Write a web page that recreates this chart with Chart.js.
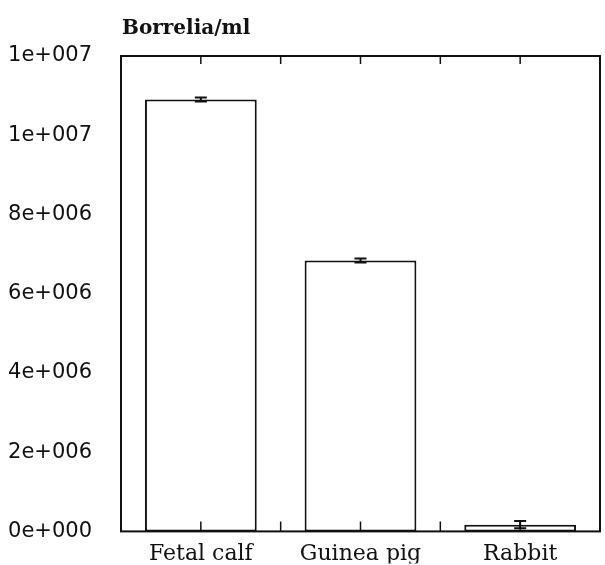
<!DOCTYPE html>
<html>
<head>
<meta charset="utf-8">
<script src="https://cdn.jsdelivr.net/npm/chart.js@4.4.0/dist/chart.umd.min.js"></script>
<style>
  html, body { margin: 0; padding: 0; background: #fff; }
  #wrap { width: 605px; height: 565px; }
</style>
</head>
<body>
<div id="wrap"><canvas id="bar-chart" width="605" height="565"></canvas></div>
<script>
// Borrelia growth in different sera

var categories = ["Fetal calf", "Guinea pig", "Rabbit"];
var counts = [10900000, 6840000, 170000];
var errors = [50000, 50000, 90000];
var yTickLabels = ["0e+000", "2e+006", "4e+006", "6e+006", "8e+006", "1e+007", "1e+007"];
var yTitle = "Borrelia/ml";

var ink = "#111";

// box around the plot, inward ticks on top and bottom, error bars, title
var decor = {
  id: 'decor',
  afterDatasetsDraw: function(chart) {
    var ctx = chart.ctx, a = chart.chartArea;
    var x = chart.scales.x, y = chart.scales.y;
    ctx.save();
    ctx.strokeStyle = ink;
    ctx.lineWidth = 2;
    ctx.strokeRect(a.left, a.top, a.right - a.left, a.bottom - a.top);

    // ticks at category centres and between categories
    var pos = [];
    for (var i = 0; i < categories.length; i++) {
      var c = x.getPixelForValue(i);
      pos.push(c);
      if (i < categories.length - 1) pos.push((c + x.getPixelForValue(i + 1)) / 2);
    }
    ctx.lineWidth = 1.5;
    ctx.beginPath();
    pos.forEach(function(p) {
      ctx.moveTo(p, a.top); ctx.lineTo(p, a.top + 8);
      ctx.moveTo(p, a.bottom); ctx.lineTo(p, a.bottom - 10);
    });
    ctx.stroke();

    // error bars
    ctx.lineWidth = 2;
    counts.forEach(function(v, i) {
      var cx = x.getPixelForValue(i);
      var hi = y.getPixelForValue(v + errors[i]);
      var lo = y.getPixelForValue(Math.max(0, v - errors[i]));
      ctx.beginPath();
      ctx.moveTo(cx, hi); ctx.lineTo(cx, lo);
      ctx.moveTo(cx - 6, hi); ctx.lineTo(cx + 6, hi);
      ctx.moveTo(cx - 6, lo); ctx.lineTo(cx + 6, lo);
      ctx.stroke();
    });

    // unit label above the axis
    ctx.fillStyle = ink;
    ctx.font = "bold 20px 'DejaVu Serif'";
    ctx.textAlign = 'left';
    ctx.textBaseline = 'middle';
    ctx.fillText(yTitle, a.left + 1, 29);
    ctx.restore();
  }
};

new Chart(document.getElementById("bar-chart"), {
  type: 'bar',
  data: {
    labels: categories,
    datasets: [{
      label: yTitle,
      data: counts,
      backgroundColor: "#fff",
      borderColor: ink,
      borderWidth: 2,
      borderSkipped: false,
      categoryPercentage: 1,
      barPercentage: 0.7
    }]
  },
  options: {
    responsive: false,
    animation: false,
    devicePixelRatio: 1,
    layout: { padding: { top: 56, right: 5, left: 0, bottom: 0 } },
    plugins: {
      legend: { display: false },
      title: { display: false },
      tooltip: { enabled: false }
    },
    scales: {
      x: {
        grid: { display: false },
        border: { display: false },
        ticks: {
          color: ink,
          padding: 2,
          font: { family: "'DejaVu Serif'", size: 22 }
        },
        afterFit: function(s) { s.height = 32; }
      },
      y: {
        min: 0,
        max: 12000000,
        grid: { display: false },
        border: { display: false },
        ticks: {
          stepSize: 2000000,
          color: ink,
          padding: 21,
          font: { family: "'DejaVu Sans'", size: 21 },
          callback: function(v, i) { return yTickLabels[i]; }
        },
        afterFit: function(s) { s.width = 121; }
      }
    }
  },
  plugins: [decor]
});
</script>
</body>
</html>
